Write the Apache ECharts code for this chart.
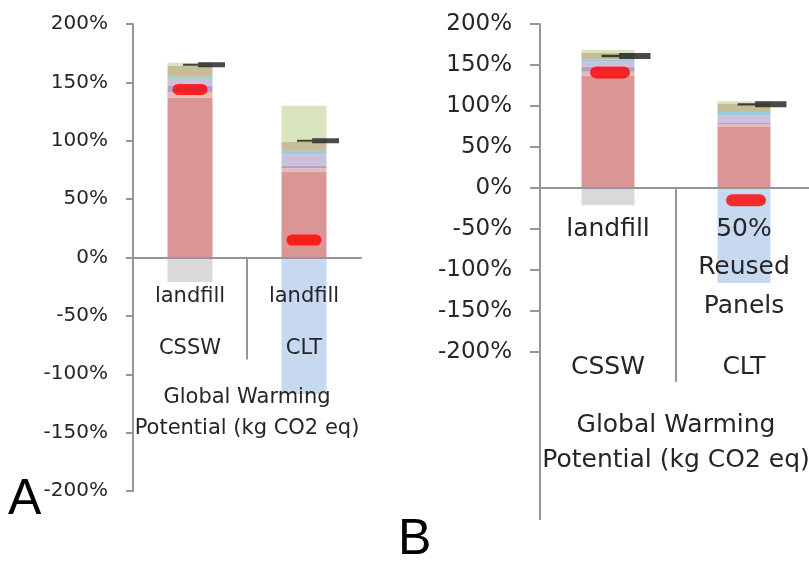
<!DOCTYPE html>
<html>
<head>
<meta charset="utf-8">
<script src="https://cdn.jsdelivr.net/npm/echarts@6/dist/echarts.min.js"></script>
<style>
  html, body { margin: 0; padding: 0; background: #ffffff; }
  #chart { width: 809px; height: 561px; }
</style>
</head>
<body>
<div id="chart"></div>
<script>
// ---------- Panel A: both wall systems sent to landfill ----------
const catsA   = ['landfill', 'landfill'];
const groupsA = ['CSSW', 'CLT'];
// stacked impact layers, % of reference (bottom to top)
const layer1A = [137, 73.5];
const layer2A = [4.8, 2.9];
const layer3A = [5.0, 2.2];
const layer4A = [6.3, 9.8];
const layer5A = [1.7, 3.1];
const layer6A = [9.7, 7.7];
const layer7A = [2.3, 30.8];
// credits (negative)
const creditGreyA = [-21, 0];
const creditBlueA = [0, -117];
// net result and reference level
const netA = [144, 15];
const refA = [165, 100];

// ---------- Panel B: CSSW landfill vs CLT with 50% reused panels ----------
const catsB   = ['landfill', '50%\nReused\nPanels'];
const groupsB = ['CSSW', 'CLT'];
const layer1B = [137, 74.5];
const layer2B = [4.9, 2.9];
const layer3B = [6.1, 2.0];
const layer4B = [6.1, 9.4];
const layer5B = [2.9, 4.0];
const layer6B = [8.1, 10.3];
const layer7B = [3.3, 2.8];
const creditGreyB = [-21, 0];
const creditBlueB = [0, -116];
const netB = [141, -15];
const refB = [161, 102];

const axisTitle = 'Global Warming\nPotential (kg CO2 eq)';

// ---------- styling ----------
const FONT = 'DejaVu Sans';
const TEXT = '#262626';
const AXIS = '#969696';
const layerColors = ['#d99694', '#e6b9b8', '#b3a2c7', '#ccc1da', '#93cddd', '#c4bd97', '#d7e4bd'];
const greyCredit = '#d9d9d9';
const blueCredit = '#c6d9f1';
const netColor = '#ff0000';
const refColor = '#1c1c1c';

const capsule = 'path://M5.5,0 H29.5 A5.5,5.5 0 0 1 29.5,11 H5.5 A5.5,5.5 0 0 1 5.5,0 Z';
const refDash = 'path://M0,30 H36 V0 H100 V100 H36 V70 H0 Z';

const panels = [
  {
    cats: catsA, groups: groupsA,
    layers: [layer1A, layer2A, layer3A, layer4A, layer5A, layer6A, layer7A],
    credits: [creditGreyA, creditBlueA], net: netA, ref: refA,
    grid: { left: 133, top: 24, width: 228, height: 467 },
    barWidth: 45, tickFont: 20, catFont: 21, catLine: 26,
    lvl1Margin: 26, lvl2Margin: 76, nameGap: 125, nameLine: 31,
    netSize: [35, 11], netOffset: [0, 0],
    refSize: [42, 5], refOffset: [14, 0],
    labelMargin: 25, tickLen: 7,
    dividerDrop: 102, frameDrop: 0
  },
  {
    cats: catsB, groups: groupsB,
    layers: [layer1B, layer2B, layer3B, layer4B, layer5B, layer6B, layer7B],
    credits: [creditGreyB, creditBlueB], net: netB, ref: refB,
    grid: { left: 540, top: 24, width: 272, height: 328 },
    barWidth: 53, tickFont: 23, catFont: 25, catLine: 38.5,
    lvl1Margin: 22, lvl2Margin: 164, nameGap: 220, nameLine: 35,
    netSize: [40, 12], netOffset: [2, 0],
    refSize: [49, 6], refOffset: [18, 0],
    labelMargin: 28, tickLen: 10,
    dividerDrop: 194, frameDrop: 168
  }
];

const grids = [], xAxes = [], yAxes = [], series = [];

panels.forEach((p, i) => {
  grids.push(Object.assign({ outerBoundsMode: 'none', containLabel: false }, p.grid));

  yAxes.push({
    type: 'value', gridIndex: i, min: -200, max: 200, interval: 50,
    axisLine: { show: true, lineStyle: { color: AXIS, width: 2 } },
    axisTick: { show: true, length: p.tickLen, lineStyle: { color: AXIS, width: 2 } },
    splitLine: { show: false },
    axisLabel: {
      formatter: '{value}%', margin: p.labelMargin,
      fontFamily: FONT, fontSize: p.tickFont, color: TEXT
    }
  });

  // first label row: disposal scenario
  xAxes.push({
    type: 'category', gridIndex: i, data: p.cats, position: 'bottom', offset: 0, z: 6,
    axisLine: { show: true, onZero: false, lineStyle: { color: AXIS, width: 2 } },
    axisTick: { show: false },
    axisLabel: {
      interval: 0, margin: p.lvl1Margin, fontFamily: FONT, fontSize: p.catFont,
      lineHeight: p.catLine, color: TEXT
    }
  });
  // second label row: wall system, plus the group title
  xAxes.push({
    type: 'category', gridIndex: i, data: p.groups, position: 'bottom', offset: 0, z: 6,
    axisLine: { show: false, onZero: false },
    axisTick: { show: false },
    axisLabel: {
      interval: 0, margin: p.lvl2Margin, fontFamily: FONT, fontSize: p.catFont,
      lineHeight: 30, color: TEXT
    },
    name: axisTitle, nameLocation: 'middle', nameGap: p.nameGap,
    nameTextStyle: { fontFamily: FONT, fontSize: p.catFont, lineHeight: p.nameLine, color: TEXT }
  });

  const xi = i * 2;
  p.layers.forEach((vals, k) => {
    series.push({
      type: 'bar', name: 'layer' + (k + 1), stack: 'p' + i,
      xAxisIndex: xi, yAxisIndex: i, barWidth: p.barWidth,
      itemStyle: { color: layerColors[k] }, data: vals
    });
  });
  [greyCredit, blueCredit].forEach((c, k) => {
    series.push({
      type: 'bar', name: 'credit' + (k + 1), stack: 'p' + i,
      xAxisIndex: xi, yAxisIndex: i, barWidth: p.barWidth,
      itemStyle: { color: c }, data: p.credits[k]
    });
  });
  series.push({
    type: 'scatter', name: 'net', xAxisIndex: xi, yAxisIndex: i, z: 4,
    symbol: capsule, symbolSize: p.netSize, symbolOffset: p.netOffset,
    itemStyle: { color: netColor }, data: p.net
  });
  series.push({
    type: 'scatter', name: 'reference', xAxisIndex: xi, yAxisIndex: i, z: 5,
    symbol: refDash, symbolSize: p.refSize, symbolOffset: p.refOffset,
    itemStyle: { color: refColor }, data: p.ref
  });
});

const chart = echarts.init(document.getElementById('chart'), null, { renderer: 'canvas' });
chart.setOption({
  animation: false,
  backgroundColor: '#ffffff',
  grid: grids,
  xAxis: xAxes,
  yAxis: yAxes,
  series: series
});

// move the category axes up to the zero line of each value axis
const zeroY = [], floorY = [];
panels.forEach((p, i) => {
  zeroY[i] = chart.convertToPixel({ yAxisIndex: i }, 0);
  floorY[i] = chart.convertToPixel({ yAxisIndex: i }, -200);
});
chart.setOption({
  xAxis: xAxes.map((ax, k) => {
    const i = Math.floor(k / 2);
    return { offset: zeroY[i] - floorY[i] };
  })
});

// category separators below the zero line, placed from the axis scales
const extras = [];
panels.forEach((p, i) => {
  const xi = i * 2;
  const c0 = chart.convertToPixel({ xAxisIndex: xi }, 0);
  const c1 = chart.convertToPixel({ xAxisIndex: xi }, 1);
  const mid = (c0 + c1) / 2;
  const y0 = zeroY[i];
  extras.push({
    type: 'line', silent: true,
    shape: { x1: mid, y1: y0, x2: mid, y2: y0 + p.dividerDrop },
    style: { stroke: AXIS, lineWidth: 2 }
  });
  if (p.frameDrop) {
    const left = c0 - (c1 - c0) / 2;
    const yb = floorY[i];
    extras.push({
      type: 'line', silent: true,
      shape: { x1: left, y1: yb, x2: left, y2: yb + p.frameDrop },
      style: { stroke: AXIS, lineWidth: 2 }
    });
  }
});
// panel letters
extras.push({
  type: 'text', silent: true,
  style: { text: 'A', x: 8, y: 500, verticalAlign: 'middle', font: '50px "Liberation Sans"', fill: '#000000' }
});
extras.push({
  type: 'text', silent: true,
  style: { text: 'B', x: 398, y: 540, verticalAlign: 'middle', font: '50px "Liberation Sans"', fill: '#000000' }
});
chart.setOption({ graphic: extras });
</script>
</body>
</html>
